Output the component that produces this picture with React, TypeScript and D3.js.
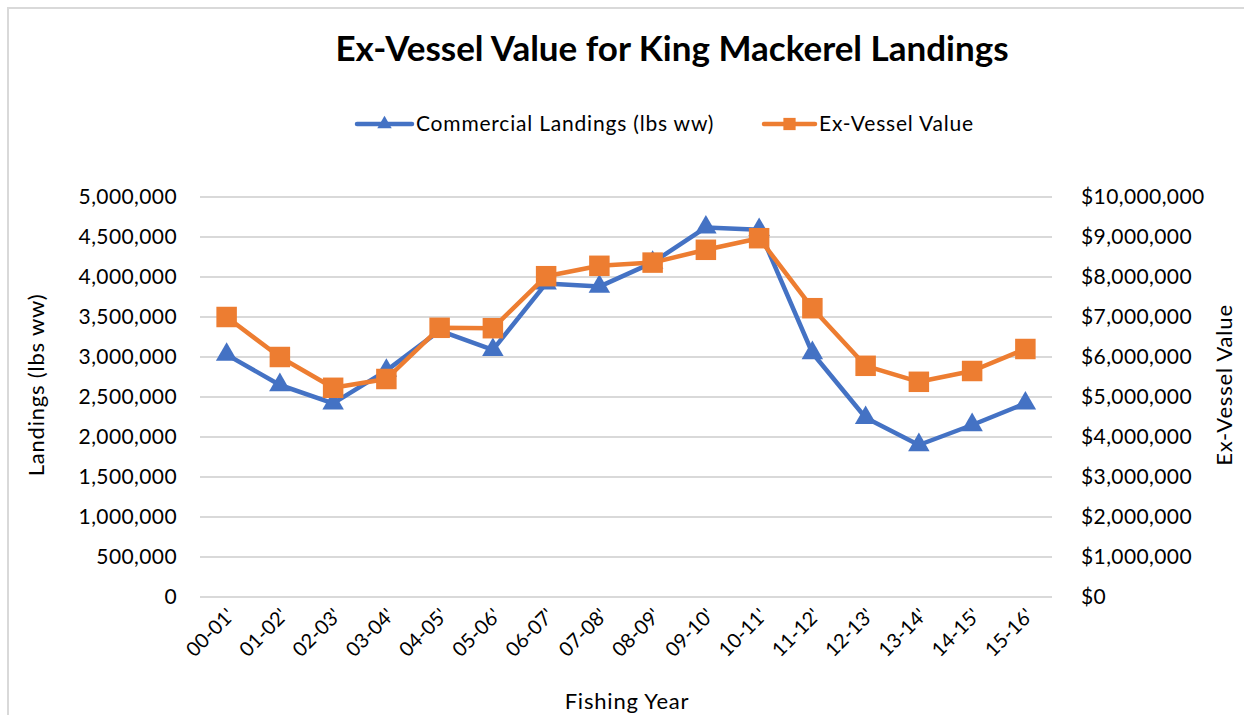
import React, { useEffect, useRef } from 'react';
import * as d3 from 'd3';

const years = ["00-01'", "01-02'", "02-03'", "03-04'", "04-05'", "05-06'", "06-07'", "07-08'",
    "08-09'", "09-10'", "10-11'", "11-12'", "12-13'", "13-14'", "14-15'", "15-16'"];

const landings = [3030000, 2650000, 2420000, 2830000, 3330000, 3090000, 3920000, 3880000,
    4180000, 4620000, 4590000, 3050000, 2240000, 1900000, 2150000, 2420000];

const exVesselValue = [7000000, 6000000, 5230000, 5450000, 6730000, 6720000, 8020000, 8280000,
    8360000, 8680000, 8970000, 7220000, 5780000, 5380000, 5650000, 6200000];

const leftTicks = [0, 500000, 1000000, 1500000, 2000000, 2500000, 3000000, 3500000, 4000000, 4500000, 5000000];
const rightTicks = [0, 1000000, 2000000, 3000000, 4000000, 5000000, 6000000, 7000000, 8000000, 9000000, 10000000];

const BLUE = '#4472C4';
const ORANGE = '#ED7D31';
const GRID = '#d9d9d9';
const FONT = 'Lato, "Open Sans", sans-serif';

const App = () => {
    const chartRef = useRef(null);

    useEffect(() => {
        drawChart();
    }, []);

    const drawChart = () => {
        const svg = d3.select(chartRef.current);
        svg.selectAll('*').remove();

        const left = 200;
        const right = 1052;
        const top = 197;
        const bottom = 597;

        const x = d3.scaleBand().domain(years).range([left, right]).padding(0);
        const yLeft = d3.scaleLinear().domain([0, 5000000]).range([bottom, top]);
        const yRight = d3.scaleLinear().domain([0, 10000000]).range([bottom, top]);
        const cx = d => x(d) + x.bandwidth() / 2;

        // chart border
        svg.append('rect')
            .attr('x', 8).attr('y', 8)
            .attr('width', 1260).attr('height', 720)
            .attr('fill', 'none')
            .attr('stroke', GRID)
            .attr('stroke-width', 2);

        svg.append('text')
            .attr('x', 672).attr('y', 61)
            .attr('text-anchor', 'middle')
            .attr('font-family', FONT)
            .attr('font-weight', 'bold')
            .attr('font-size', 35)
            .attr('fill', '#000')
            .text('Ex-Vessel Value for King Mackerel Landings');

        // gridlines
        svg.append('g')
            .selectAll('line')
            .data(leftTicks)
            .enter()
            .append('line')
            .attr('x1', left).attr('x2', right)
            .attr('y1', d => yLeft(d)).attr('y2', d => yLeft(d))
            .attr('stroke', GRID)
            .attr('stroke-width', 2);

        const fmt = d3.format(',');

        svg.append('g')
            .selectAll('text')
            .data(leftTicks)
            .enter()
            .append('text')
            .attr('x', 177)
            .attr('y', d => yLeft(d))
            .attr('dy', '0.35em')
            .attr('text-anchor', 'end')
            .attr('font-family', FONT)
            .attr('font-size', 21)
            .attr('letter-spacing', 0.4)
            .attr('fill', '#000')
            .text(d => fmt(d));

        svg.append('g')
            .selectAll('text')
            .data(rightTicks)
            .enter()
            .append('text')
            .attr('x', 1081)
            .attr('y', d => yRight(d))
            .attr('dy', '0.35em')
            .attr('text-anchor', 'start')
            .attr('font-family', FONT)
            .attr('font-size', 21)
            .attr('letter-spacing', 0.4)
            .attr('fill', '#000')
            .text(d => '$' + fmt(d));

        // x labels
        svg.append('g')
            .selectAll('text')
            .data(years)
            .enter()
            .append('text')
            .attr('transform', d => `translate(${cx(d) + 4}, 612) rotate(-45)`)
            .attr('text-anchor', 'end')
            .attr('dy', '0.35em')
            .attr('font-family', FONT)
            .attr('font-size', 20)
            .attr('fill', '#000')
            .text(d => d);

        // axis titles
        svg.append('text')
            .attr('x', 627).attr('y', 709)
            .attr('text-anchor', 'middle')
            .attr('font-family', FONT)
            .attr('font-size', 22)
            .attr('letter-spacing', 0.8)
            .attr('fill', '#000')
            .text('Fishing Year');

        svg.append('text')
            .attr('transform', 'translate(44, 385) rotate(-90)')
            .attr('text-anchor', 'middle')
            .attr('font-family', FONT)
            .attr('font-size', 22)
            .attr('letter-spacing', 0.8)
            .attr('fill', '#000')
            .text('Landings (lbs ww)');

        svg.append('text')
            .attr('transform', 'translate(1232, 385) rotate(-90)')
            .attr('text-anchor', 'middle')
            .attr('font-family', FONT)
            .attr('font-size', 22)
            .attr('letter-spacing', 0.8)
            .attr('fill', '#000')
            .text('Ex-Vessel Value');

        const tri = d3.symbol().type(d3.symbolTriangle).size(200);
        const sq = d3.symbol().type(d3.symbolSquare).size(420);

        // landings series
        const lineL = d3.line().x((d, i) => cx(years[i])).y(d => yLeft(d));
        svg.append('path')
            .datum(landings)
            .attr('d', lineL)
            .attr('fill', 'none')
            .attr('stroke', BLUE)
            .attr('stroke-width', 4.5)
            .attr('stroke-linejoin', 'round');

        svg.append('g')
            .selectAll('path')
            .data(landings)
            .enter()
            .append('path')
            .attr('d', tri)
            .attr('transform', (d, i) => `translate(${cx(years[i])}, ${yLeft(d)})`)
            .attr('fill', BLUE);

        // value series
        const lineR = d3.line().x((d, i) => cx(years[i])).y(d => yRight(d));
        svg.append('path')
            .datum(exVesselValue)
            .attr('d', lineR)
            .attr('fill', 'none')
            .attr('stroke', ORANGE)
            .attr('stroke-width', 4.5)
            .attr('stroke-linejoin', 'round');

        svg.append('g')
            .selectAll('path')
            .data(exVesselValue)
            .enter()
            .append('path')
            .attr('d', sq)
            .attr('transform', (d, i) => `translate(${cx(years[i])}, ${yRight(d)})`)
            .attr('fill', ORANGE);

        // legend
        const legend = svg.append('g');
        const legendData = [
            { name: 'Commercial Landings (lbs ww)', color: BLUE, x: 357, w: 55, shape: d3.symbolTriangle, size: 90 },
            { name: 'Ex-Vessel Value', color: ORANGE, x: 764, w: 51, shape: d3.symbolSquare, size: 150 },
        ];

        legend.selectAll('line')
            .data(legendData)
            .enter()
            .append('line')
            .attr('x1', d => d.x).attr('x2', d => d.x + d.w)
            .attr('y1', 124).attr('y2', 124)
            .attr('stroke', d => d.color)
            .attr('stroke-width', 4.5)
            .attr('stroke-linecap', 'round');

        legend.selectAll('path')
            .data(legendData)
            .enter()
            .append('path')
            .attr('d', d => d3.symbol().type(d.shape).size(d.size)())
            .attr('transform', d => `translate(${d.x + d.w / 2}, 124)`)
            .attr('fill', d => d.color);

        legend.selectAll('text')
            .data(legendData)
            .enter()
            .append('text')
            .attr('x', d => d.x + d.w + 4)
            .attr('y', 124)
            .attr('dy', '0.35em')
            .attr('font-family', FONT)
            .attr('font-size', 21)
            .attr('letter-spacing', 0.8)
            .attr('fill', '#000')
            .text(d => d.name);
    };

    return <svg ref={chartRef} width="1244" height="715" style={{ position: 'absolute', left: 0, top: 0 }} />;
};

export default App;
